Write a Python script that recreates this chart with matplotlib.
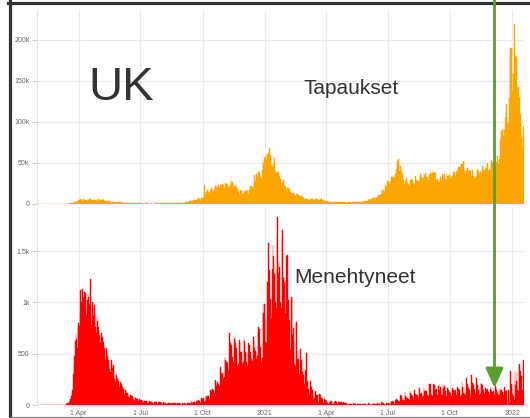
import numpy as np
import pandas as pd
import matplotlib
matplotlib.use('Agg')
import matplotlib.pyplot as plt
from matplotlib.lines import Line2D
from matplotlib.patches import FancyArrowPatch

plt.rcParams['font.family'] = ['Liberation Sans', 'DejaVu Sans']

# daily UK data, first day 2020-01-31 (one row = one week, Fri..Thu)
start_day = '2020-01-31'

# new cases, thousands
cases_k = [
    0, 0, 0, 0, 0, 0, 0,
    0, 0, 0, 0, 0, 0, 0,
    0, 0, 0, 0, 0, 0, 0,
    0, 0, 0, 0, 0, 0, 0,
    0, 0, 0, 0, 0, 0, 0.1,
    0.05, 0.05, 0.05, 0.05, 0.07, 0.08, 0.13,
    0.2, 0.2, 0.2, 0.4, 0.4, 0.7, 0.7,
    1.0, 1.0, 1.0, 1.4, 1.5, 2.1, 2.9,
    2.5, 2.5, 2.4, 3.0, 4.3, 4.3, 4.5,
    4.5, 5.9, 5.3, 3.8, 3.6, 5.5, 4.3,
    5.2, 5.2, 4.3, 4.6, 4.0, 4.6, 5.2,
    5.6, 5.5, 5.9, 4.7, 4.3, 4.4, 4.6,
    5.4, 4.9, 4.5, 4.3, 3.9, 4.1, 6.0,
    5.0, 4.8, 4.3, 4.0, 4.4, 6.1, 5.6,
    4.6, 3.9, 3.9, 3.9, 3.4, 3.2, 3.4,
    3.6, 3.5, 3.1, 2.7, 2.4, 2.5, 2.6,
    2.9, 2.9, 2.4, 1.6, 2.0, 2.1, 1.9,
    2.1, 2.4, 1.9, 1.6, 1.9, 1.9, 1.8,
    1.7, 1.6, 1.3, 1.2, 1.4, 1.0, 1.5,
    1.5, 1.4, 1.0, 1.1, 1.3, 1.1, 1.2,
    1.3, 1.3, 1.0, 0.96, 0.87, 0.65, 1.1,
    1.0, 0.89, 0.9, 0.82, 0.69, 0.83, 0.58,
    0.57, 0.62, 0.52, 0.35, 0.58, 0.85, 0.64,
    0.64, 0.82, 0.65, 0.53, 0.6, 0.54, 0.54,
    0.83, 0.8, 0.58, 0.58, 0.45, 0.56, 0.77,
    0.77, 0.77, 0.7, 0.69, 0.58, 0.76, 0.85,
    0.88, 0.74, 0.74, 0.94, 0.67, 0.95, 0.95,
    0.87, 0.76, 1.06, 0.81, 0.81, 1.0, 0.95,
    1.44, 1.07, 1.04, 0.71, 0.71, 0.81, 1.18,
    1.03, 1.29, 1.0, 0.85, 1.18, 1.05, 1.52,
    1.28, 1.1, 1.7, 1.3, 1.3, 1.5, 1.7,
    1.8, 1.8, 2.9, 2.9, 2.5, 2.6, 2.9,
    3.5, 3.5, 3.3, 2.6, 3.1, 3.9, 3.4,
    4.3, 4.4, 3.9, 4.4, 4.9, 6.2, 6.6,
    6.9, 6.0, 5.7, 4.0, 7.1, 7.1, 6.9,
    6.9, 12.9, 23.0, 12.6, 14.5, 14.2, 17.5,
    13.9, 15.2, 12.9, 13.9, 17.2, 19.7, 18.9,
    15.7, 16.2, 16.9, 18.8, 21.3, 26.7, 21.2,
    20.5, 23.0, 19.8, 20.9, 23.0, 24.7, 23.1,
    24.4, 21.9, 23.3, 18.9, 20.0, 25.2, 24.1,
    23.3, 24.9, 20.6, 21.4, 20.4, 22.9, 33.5,
    27.3, 26.9, 24.9, 21.4, 20.1, 19.6, 22.9,
    20.3, 19.9, 18.7, 15.5, 11.3, 18.2, 17.6,
    16.0, 15.9, 12.2, 12.3, 13.4, 16.2, 14.9,
    16.3, 17.3, 15.5, 14.7, 12.2, 16.6, 20.9,
    21.7, 21.5, 18.4, 20.3, 18.5, 25.2, 35.4,
    28.5, 27.1, 35.9, 33.4, 36.8, 39.2, 39.0,
    32.7, 34.7, 30.5, 41.4, 53.1, 50.0, 55.9,
    53.3, 57.7, 54.9, 58.8, 60.9, 62.3, 52.6,
    68.1, 59.9, 54.9, 46.2, 45.5, 47.5, 48.7,
    55.8, 41.3, 38.6, 37.5, 33.4, 38.9, 37.9,
    40.3, 33.6, 30.0, 22.2, 20.1, 25.3, 28.7,
    29.1, 23.3, 21.1, 18.6, 16.4, 19.2, 20.6,
    19.1, 18.3, 15.8, 14.1, 12.4, 13.0, 13.5,
    13.3, 13.3, 10.0, 9.8, 10.6, 12.7, 12.1,
    12.0, 10.4, 9.8, 10.6, 8.5, 9.9, 9.0,
    8.5, 7.4, 6.0, 5.0, 5.8, 6.4, 6.5,
    6.0, 5.2, 5.2, 4.7, 5.9, 5.9, 6.3,
    6.6, 5.5, 4.6, 5.1, 5.3, 5.8, 6.3,
    4.8, 5.6, 5.3, 5.3, 5.4, 5.6, 6.4,
    6.2, 4.7, 3.9, 4.7, 4.0, 4.0, 4.5,
    3.4, 3.4, 2.6, 2.8, 3.0, 2.4, 2.8,
    3.0, 2.6, 1.7, 2.5, 2.5, 2.4, 2.7,
    2.6, 2.2, 1.9, 2.5, 2.5, 2.4, 2.7,
    2.4, 2.1, 1.7, 2.1, 1.9, 2.6, 2.1,
    2.4, 1.6, 1.7, 1.9, 1.9, 2.6, 2.5,
    2.0, 1.9, 1.6, 2.4, 2.0, 2.3, 2.7,
    2.2, 2.0, 1.9, 2.4, 2.7, 2.7, 2.9,
    2.8, 2.2, 1.9, 2.5, 2.5, 3.2, 3.5,
    4.2, 3.4, 3.2, 3.2, 3.2, 4.3, 5.3,
    6.2, 5.8, 5.3, 5.6, 6.0, 7.5, 7.4,
    8.1, 7.7, 7.5, 7.7, 7.7, 9.1, 11.0,
    10.5, 10.3, 9.3, 10.6, 11.6, 16.1, 16.7,
    15.8, 18.3, 14.9, 22.9, 20.5, 26.1, 27.9,
    27.9, 24.9, 24.2, 27.3, 28.8, 32.6, 32.5,
    35.7, 32.4, 31.8, 34.5, 36.7, 42.3, 48.6,
    51.9, 54.7, 48.2, 39.9, 46.6, 44.1, 39.9,
    36.4, 31.8, 29.2, 24.9, 23.5, 27.7, 31.1,
    29.6, 26.1, 24.5, 21.9, 22.3, 29.3, 31.0,
    27.0, 28.6, 25.2, 26.0, 23.5, 33.9, 29.6,
    29.5, 27.9, 26.8, 28.4, 26.9, 33.9, 36.6,
    32.3, 32.1, 31.9, 31.9, 30.8, 35.8, 38.3,
    37.7, 32.4, 33.0, 26.5, 29.2, 35.7, 38.2,
    42.1, 37.0, 37.6, 41.2, 37.5, 38.9, 38.0,
    37.6, 29.5, 29.2, 30.8, 27.0, 30.6, 26.9,
    32.7, 30.3, 29.6, 36.1, 34.5, 31.6, 36.7,
    35.6, 30.3, 29.6, 37.9, 33.9, 34.5, 36.5,
    35.1, 30.3, 32.6, 34.5, 33.9, 38.5, 40.7,
    39.0, 34.5, 32.4, 40.2, 38.5, 42.8, 45.1,
    44.9, 43.4, 45.1, 49.2, 43.7, 49.1, 52.0,
    50.0, 39.9, 36.6, 36.6, 40.9, 43.9, 39.8,
    39.3, 41.8, 37.0, 40.1, 33.9, 41.3, 37.3,
    34.0, 30.7, 30.3, 32.3, 33.1, 39.3, 42.4,
    40.4, 40.2, 36.5, 39.7, 36.5, 38.3, 46.8,
    44.2, 40.9, 40.0, 44.9, 42.5, 43.7, 47.2,
    50.1, 39.6, 37.7, 42.6, 39.7, 48.4, 53.9,
    50.6, 42.4, 43.9, 51.5, 45.7, 51.3, 50.9,
    58.2, 54.1, 48.9, 54.7, 59.6, 78.6, 88.4,
    93.0, 90.4, 82.9, 91.7, 90.6, 106.1, 119.8,
    122.2, 98.5, 106.0, 98.5, 129.5, 183.0, 189.2,
    189.8, 162.6, 137.5, 157.8, 218.7, 194.7, 179.8,
    178.3, 146.4, 141.5, 142.2, 120.8, 130.0, 109.1,
    99.7, 81.7, 70.9, 84.4, 94.4,
]

# deaths within 28 days, per day
deaths = [
    0, 0, 0, 0, 0, 0, 0,
    0, 0, 0, 0, 0, 0, 0,
    0, 0, 0, 0, 0, 0, 0,
    0, 0, 0, 0, 0, 0, 0,
    0, 0, 0, 0, 0, 0, 1,
    1, 0, 1, 2, 1, 0, 2,
    2, 5, 8, 15, 20, 30, 40,
    60, 90, 110, 150, 300, 400, 480,
    620, 700, 640, 560, 750, 800, 770,
    900, 1120, 1000, 820, 1130, 1050, 980,
    1100, 1090, 950, 880, 1020, 1080, 1050,
    980, 1228, 900, 780, 1000, 950, 870,
    975, 890, 760, 700, 860, 820, 760,
    730, 680, 600, 560, 700, 660, 600,
    615, 560, 480, 440, 560, 520, 480,
    440, 420, 350, 320, 440, 400, 360,
    390, 300, 250, 220, 300, 290, 250,
    276, 230, 180, 160, 220, 200, 180,
    180, 160, 120, 110, 150, 140, 120,
    117, 110, 80, 70, 100, 97, 85,
    90, 80, 50, 40, 75, 70, 60,
    68, 60, 35, 30, 55, 50, 45,
    48, 42, 25, 20, 40, 38, 35,
    40, 35, 20, 18, 38, 36, 30,
    35, 30, 15, 14, 32, 30, 28,
    30, 28, 12, 10, 28, 26, 24,
    28, 22, 10, 8, 25, 24, 20,
    24, 20, 8, 6, 22, 20, 18,
    22, 18, 6, 5, 20, 18, 16,
    20, 16, 6, 4, 18, 17, 15,
    18, 14, 5, 3, 16, 15, 14,
    16, 14, 5, 4, 15, 16, 15,
    18, 16, 6, 8, 25, 22, 20,
    30, 28, 12, 15, 40, 38, 35,
    45, 40, 18, 22, 65, 60, 55,
    70, 65, 30, 35, 90, 85, 80,
    100, 90, 60, 70, 150, 140, 135,
    160, 150, 110, 120, 240, 210, 190,
    225, 200, 170, 190, 370, 330, 300,
    310, 290, 250, 270, 470, 440, 420,
    430, 410, 330, 350, 700, 600, 560,
    580, 470, 400, 420, 640, 666, 600,
    560, 430, 380, 400, 634, 600, 520,
    520, 480, 400, 420, 640, 620, 520,
    500, 420, 380, 400, 600, 580, 510,
    520, 450, 400, 430, 666, 620, 560,
    530, 520, 450, 480, 700, 763, 740,
    570, 460, 420, 460, 980, 900, 984,
    850, 610, 600, 830, 1200, 1578, 1300,
    1320, 1035, 900, 850, 1330, 1560, 1450,
    1280, 1290, 1000, 950, 1657, 1835, 1290,
    1400, 1350, 1000, 950, 1631, 1706, 1240,
    1250, 1200, 900, 700, 1450, 1462, 1010,
    1020, 828, 600, 550, 1052, 1056, 680,
    750, 620, 400, 380, 800, 812, 450,
    530, 445, 300, 280, 548, 442, 323,
    345, 290, 200, 160, 343, 505, 242,
    236, 158, 110, 100, 231, 190, 175,
    146, 121, 52, 64, 110, 141, 95,
    101, 96, 33, 17, 112, 98, 70,
    70, 58, 19, 23, 63, 52, 51,
    40, 20, 10, 6, 20, 45, 30,
    40, 34, 7, 13, 23, 30, 39,
    34, 32, 10, 4, 33, 29, 22,
    32, 32, 12, 17, 29, 22, 18,
    15, 15, 6, 1, 14, 13, 13,
    10, 11, 5, 4, 11, 17, 11,
    17, 7, 4, 5, 9, 9, 10,
    12, 6, 5, 4, 14, 11, 12,
    10, 6, 6, 1, 3, 12, 18,
    11, 12, 4, 3, 14, 13, 7,
    17, 8, 14, 3, 9, 19, 19,
    11, 14, 6, 3, 27, 19, 16,
    18, 11, 11, 3, 23, 18, 14,
    18, 15, 9, 9, 37, 33, 35,
    34, 34, 6, 6, 50, 63, 49,
    51, 41, 35, 30, 96, 73, 84,
    49, 65, 45, 40, 131, 91, 68,
    92, 65, 55, 50, 138, 119, 98,
    103, 92, 70, 60, 146, 111, 94,
    93, 100, 70, 65, 170, 113, 104,
    114, 104, 80, 85, 174, 134, 140,
    100, 133, 95, 85, 90, 207, 200,
    121, 100, 85, 85, 209, 191, 181,
    147, 156, 100, 95, 185, 201, 148,
    178, 148, 100, 95, 203, 167, 182,
    180, 136, 90, 85, 167, 150, 137,
    127, 121, 85, 80, 166, 143, 127,
    133, 148, 90, 95, 179, 136, 157,
    148, 100, 80, 95, 223, 179, 115,
    180, 110, 100, 90, 263, 207, 186,
    166, 146, 110, 90, 293, 217, 214,
    194, 155, 100, 110, 262, 201, 195,
    150, 157, 100, 105, 214, 201, 199,
    165, 150, 110, 100, 165, 149, 147,
    159, 131, 95, 100, 159, 171, 141,
    128, 132, 105, 95, 181, 161, 146,
    120, 132, 100, 95, 165, 148, 146,
    111, 125, 95, 60, 172, 140, 147,
    140, 0, 0, 143, 18, 57, 332,
    203, 154, 110, 90, 48, 334, 194,
    231, 313, 150, 140, 379, 398, 335,
    270, 287, 150, 140, 438,
]

xtick_dates = ['2020-04-01', '2020-07-01', '2020-10-01', '2021-01-01',
               '2021-04-01', '2021-07-01', '2021-10-01', '2022-01-01']
xtick_labels = ['1 Apr', '1 Jul', '1 Oct', '2021', '1 Apr', '1 Jul', '1 Oct', '2022']
cases_ticks = [0, 50000, 100000, 150000, 200000]
cases_labels = ['0', '50k', '100k', '150k', '200k']
deaths_ticks = [0, 500, 1000, 1500]
deaths_labels = ['0', '500', '1k', '1.5k']

days = pd.date_range(start_day, periods=len(cases_k), freq='D')
cases = np.array(cases_k) * 1000
deaths = np.array(deaths)

W, H = 530, 418
fig = plt.figure(figsize=(W / 100, H / 100), dpi=100)
fig.patch.set_facecolor('white')

def px_axes(x0, y0, x1, y1):
    # pixel box (from top-left) -> figure axes
    return fig.add_axes([x0 / W, 1 - y1 / H, (x1 - x0) / W, (y1 - y0) / H])

ax1 = px_axes(37, 10, 524, 204)
ax2 = px_axes(37, 207, 524, 405)

grid_c = '#ebebeb'
lab_c = '#666666'
half = pd.Timedelta(hours=12)
tick_pos = pd.to_datetime(xtick_dates)

for ax in (ax1, ax2):
    ax.set_xlim(days[0] - half, days[-1] + half)
    ax.set_xticks(tick_pos)
    ax.grid(True, color=grid_c, linewidth=0.8)
    ax.set_axisbelow(True)
    for s in ('top', 'right', 'bottom'):
        ax.spines[s].set_visible(False)
    ax.spines['left'].set_color('#e2e2e2')
    ax.spines['left'].set_linewidth(0.8)
    ax.tick_params(axis='y', length=3.5, width=0.7, color='#cccccc', pad=2,
                   labelsize=5, labelcolor=lab_c)

ax1.bar(days, cases, width=1.0, color='#ffa500', edgecolor='#ffa500', linewidth=0.3)
ax1.set_ylim(0, 236000)
ax1.set_yticks(cases_ticks)
ax1.set_yticklabels(cases_labels)
ax1.tick_params(axis='x', length=0, labelbottom=False)

ax2.bar(days, deaths, width=1.0, color='#ff0000', edgecolor='#ff0000', linewidth=0.3)
ax2.set_ylim(0, 1930)
ax2.set_yticks(deaths_ticks)
ax2.set_yticklabels(deaths_labels)
ax2.set_xticklabels(xtick_labels)
ax2.tick_params(axis='x', length=2.5, width=0.7, color='#dddddd', pad=1,
                labelsize=5, labelcolor=lab_c)

# titles
fig.text(88 / W, 1 - 100 / H, 'UK', fontsize=34, color='#333333', va='baseline')
fig.text(304 / W, 1 - 94 / H, 'Tapaukset', fontsize=15, color='#333333', va='baseline')
fig.text(294.5 / W, 1 - 283 / H, 'Menehtyneet', fontsize=15, color='#333333', va='baseline')

# screenshot frame
fig.add_artist(Line2D([8 / W, 1], [1 - 2.5 / H] * 2, transform=fig.transFigure,
                      color='#333333', linewidth=2.3))
fig.add_artist(Line2D([9.5 / W] * 2, [0, 1 - 1 / H], transform=fig.transFigure,
                      color='#333333', linewidth=2.3))
fig.add_artist(Line2D([9.5 / W, 1], [1 - 416.5 / H] * 2, transform=fig.transFigure,
                      color='#777777', linewidth=0.8))

# green arrow
arrow = FancyArrowPatch((494.5 / W, 1.0), (494.5 / W, 1 - 388 / H),
                        transform=fig.transFigure,
                        arrowstyle='-|>,head_length=0.6,head_width=0.27',
                        mutation_scale=20, color='#5a9e2f', linewidth=2.0,
                        shrinkA=0, shrinkB=0, zorder=10)
fig.add_artist(arrow)

fig.savefig('out.png', dpi=100)
